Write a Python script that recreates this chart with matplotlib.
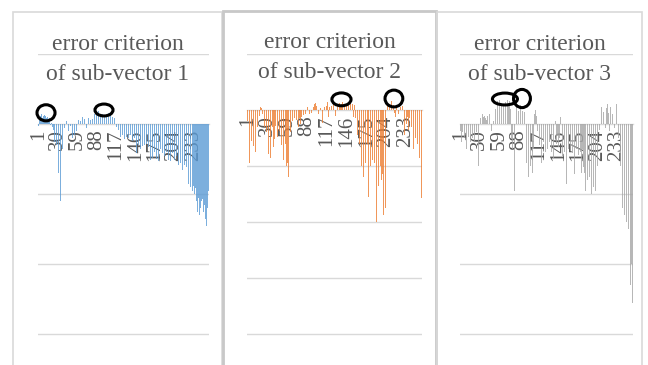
import numpy as np
import matplotlib.pyplot as plt
from matplotlib.patches import Rectangle, Ellipse

# error criterion per codeword index, in hundredths
err_v1 = [
    -3, 5, 8, 12, 10, 14, 9, 6, 11, 13, 7, 12, 9, 4, 10, 6,
    3, 8, -2, 5, 2, -4, 3, -8, -25, -40, -55, -30, -62, -45, -70, -38,
    -58, -110, -66, -48, -35, -52, -12, -6, 3, -8, 5, -4, 2, -10, 4, 6,
    -3, 5, -12, -20, -8, -25, -15, -40, -18, -10, -5, 3, 6, -2, 8, 4,
    -4, 2, 10, 5, -3, 7, 3, 9, -6, 4, 2, 8, 5, -2, 6, 10,
    4, 7, 9, 12, 15, 10, 18, 14, 16, 11, 19, 13, 17, 15, 12, 20,
    14, 16, 18, 13, 15, 17, 11, 14, 19, 16, 12, 15, 13, 17, 14, 10,
    12, 10, 8, 5, 3, -4, -6, -10, -8, -14, -12, -18, -10, -20, -15, -22,
    -15, -22, -12, -30, -18, -35, -25, -20, -38, -28, -15, -33, -40, -24, -30, -43,
    -20, -36, -28, -42, -25, -38, -30, -22, -40, -35, -27, -43, -32, -38, -60, -30,
    -35, -45, -28, -40, -50, -33, -45, -38, -52, -30, -42, -48, -36, -53, -40, -45,
    -32, -50, -44, -38, -53, -46, -40, -35, -48, -52, -42, -50, -38, -45, -53, -48,
    -40, -50, -45, -52, -36, -48, -53, -44, -50, -42, -55, -48, -52, -46, -50, -45,
    -76, -50, -58, -48, -62, -55, -70, -52, -65, -60, -75, -58, -68, -80, -62, -72,
    -66, -85, -70, -78, -90, -74, -82, -95, -88, -80, -100, -92, -150, -110, -125, -150,
    -105, -130, -95, -120, -110, -140, -107, -125, -150, -115, -135, -100, -145, -120, -214, -95,
]
err_v2 = [
    -20, -45, -60, -95, -70, -100, -55, -80, -295, -65, -90, -40, -75, -98, -50, -30,
    -60, -20, -10, 5, -15, 3, -8, 12, -5, -30, -55, -70, -40, -62, -35, -78,
    -48, -25, -86, -44, -58, -30, -66, -40, -52, -28, -60, -35, -48, -72, -68, -38,
    -55, -45, -62, -80, -50, -90, -70, -85, -60, -100, -125, -95, -120, -88, -60, -40,
    -25, -12, -20, -8, -28, -15, -5, 9, -18, -22, -10, -30, -14, -6, -25, -12,
    4, -18, -9, -24, -15, -7, -20, -11, 6, -16, -26, -8, -13, -19, -5, -10,
    3, 6, 10, -4, 12, 8, 5, 14, -8, 9, 11, 4, -15, 7, -23, 10,
    13, 6, -6, 12, 8, 15, 9, -12, 5, 11, 14, 7, -4, 10, 13, 6,
    9, -10, 8, 6, 10, -5, 8, 12, 9, 14, 11, 15, 12, 16, 10, 13,
    15, 11, 14, 9, 12, -8, 6, 10, -20, 7, 11, -12, 5, 9, -15, 4,
    -25, -45, -70, -90, -60, -140, -85, -100, -150, -75, -120, -165, -80, -95, -110, -70,
    -60, -155, -120, -85, -100, -75, -130, -90, -110, -80, -95, -145, -105, -200, -120, -90,
    -135, -110, -160, -100, -125, -190, -115, -188, -140, -160, -175, -130, -254, 8, 12, 15,
    11, 18, 14, 16, 10, 13, 9, -5, 6, -12, 8, -20, 4, -8, 10, -15,
    5, -30, -10, 7, -22, 3, -45, -18, 6, -25, -12, 8, -35, -15, 4, -20,
    -30, -55, -40, -70, -35, -80, -50, -93, -45, -60, -75, -40, -85, -65, -70, -157,
]
err_v3 = [
    -10, -18, -25, -12, -30, -8, -20, -15, -28, -35, -10, -22, -18, -40, -14, -26,
    -12, -30, -20, -8, -16, -24, -20, -45, -12, 8, 5, -60, -137, 10, 9, 12,
    7, 14, 10, -5, 11, 8, 13, 6, 12, -8, 9, 14, 10, -16, -10, -14,
    -6, 4, 18, 26, 22, 30, 25, 33, 20, 28, 35, 24, 31, 27, 36, 22,
    29, 34, 26, 32, 24, 30, 35, 28, 25, 33, 21, 27, -20, -35, -15, -50,
    -96, -25, 20, 26, 22, 28, 18, 25, 23, 27, 21, 24, 19, 26, 22, 17,
    12, -30, -55, -65, -40, -75, -50, -85, -60, -90, -45, -70, -35, 8, 15, 20,
    34, 12, -10, 6, -8, -30, -45, -20, -55, -35, -60, -25, -48, -15, -40, -22,
    -20, -35, -15, -45, -25, -50, -18, -40, -30, -12, -48, -22, -38, 5, -28, -42,
    -15, -33, -50, -20, 10, -36, -25, -45, -30, -18, -40, -55, -30, -86, -45, -60,
    -35, -70, -50, -38, -65, -80, -42, -58, -30, -72, -48, -62, -36, -55, -78, -44,
    -66, -52, -40, -70, -58, -35, -62, -48, -70, -95, -65, -110, -80, -130, -90, -75,
    -120, -85, -100, -70, -115, -90, -125, -176, -95, -80, -110, -60, 10, 18, -8, 22,
    15, 25, -12, 20, 17, 26, 14, -6, 23, 19, 28, 16, 21, -10, 24, 18,
    27, 15, 20, 25, -5, 22, 17, 28, 12, -15, -20, -45, -70, -60, -95, -80,
    -120, -100, -75, -130, -110, -90, -140, -160, -120, -150, -175, -140, -230, -200, -243, -255,
]
tick_idx = [1, 30, 59, 88, 117, 146, 175, 204, 233]
titles = ["error criterion\nof sub-vector 1",
          "error criterion\nof sub-vector 2",
          "error criterion\nof sub-vector 3"]
colors = ["#5B9BD5", "#ED7D31", "#A5A5A5"]

# highlighted groups: (index centre, value centre, width in indices, height)
marks = [
    [(12.5, 0.16, 27, 0.23), (99.3, 0.20, 27, 0.17)],
    [(138.7, 0.19, 28, 0.23), (215.4, 0.205, 26, 0.30)],
    [(67, 0.357, 37, 0.17), (92.2, 0.364, 25, 0.26)],
]

W, H = 648, 365
fig = plt.figure(figsize=(W / 100, H / 100), dpi=100)
fig.patch.set_facecolor("white")

# pixel layout of each chart: box (left, top, right), plot (left, right), px per unit, title baselines
boxes = [(13, 12, 222), (223.5, 11, 436), (437.5, 12, 642)]
plots = [(38, 209, 70), (247, 422, 56), (460, 633, 70)]
base = [(50.5, 80.5), (48.5, 78.5), (50, 80)]
grey = "#D9D9D9"
txt = "#595959"
top_px = 54

for k, vals in enumerate([err_v1, err_v2, err_v3]):
    bl, bt, br = boxes[k]
    lw = 2.0 if k == 1 else 1.2
    ec = "#C8C8C8" if k == 1 else grey
    fig.patches.append(Rectangle((bl / W, -0.1), (br - bl) / W, 1.1 - bt / H,
                                 transform=fig.transFigure, fill=False,
                                 edgecolor=ec, linewidth=lw, zorder=0))

    pl, pr, ppu = plots[k]
    ax = fig.add_axes([pl / W, 0, (pr - pl) / W, (H - top_px) / H])
    ax.set_facecolor("none")
    y = np.array(vals) / 100.0
    x = np.arange(1, len(y) + 1)
    ax.bar(x, y, width=0.6, color=colors[k], alpha=0.8, linewidth=0, zorder=2)
    ax.set_xlim(0.5, len(y) + 0.5)
    ax.set_ylim(1 - (H - top_px) / ppu, 1)

    lo = int(np.ceil(1 - (H - top_px) / ppu))
    for g in range(lo, 2):
        if g != 0:
            ax.axhline(g, color=grey, linewidth=1, zorder=0)

    for s in ["top", "right", "left"]:
        ax.spines[s].set_visible(False)
    ax.spines["bottom"].set_position(("data", 0))
    ax.spines["bottom"].set_color(grey)
    ax.spines["bottom"].set_linewidth(1)
    ax.spines["bottom"].set_zorder(1)
    ax.set_yticks([])
    ax.set_xticks(tick_idx)
    ax.set_xticklabels([str(t) for t in tick_idx], rotation=90,
                       fontfamily="Liberation Serif", fontsize=15, color=txt)
    ax.tick_params(axis="x", length=0, pad=4)

    for cx, cy, ew, eh in marks[k]:
        ax.add_patch(Ellipse((cx, cy), ew, eh, fill=False, edgecolor="black",
                             linewidth=2.2, zorder=5, clip_on=False))

    line1, line2 = titles[k].split("\n")
    cx = (bl + br) / 2 / W
    fig.text(cx, 1 - base[k][0] / H, line1, ha="center", va="baseline",
             fontfamily="Liberation Serif", fontsize=17, color=txt)
    fig.text(cx, 1 - base[k][1] / H, line2, ha="center", va="baseline",
             fontfamily="Liberation Serif", fontsize=17, color=txt)

fig.savefig("out.png", dpi=100, facecolor="white")
